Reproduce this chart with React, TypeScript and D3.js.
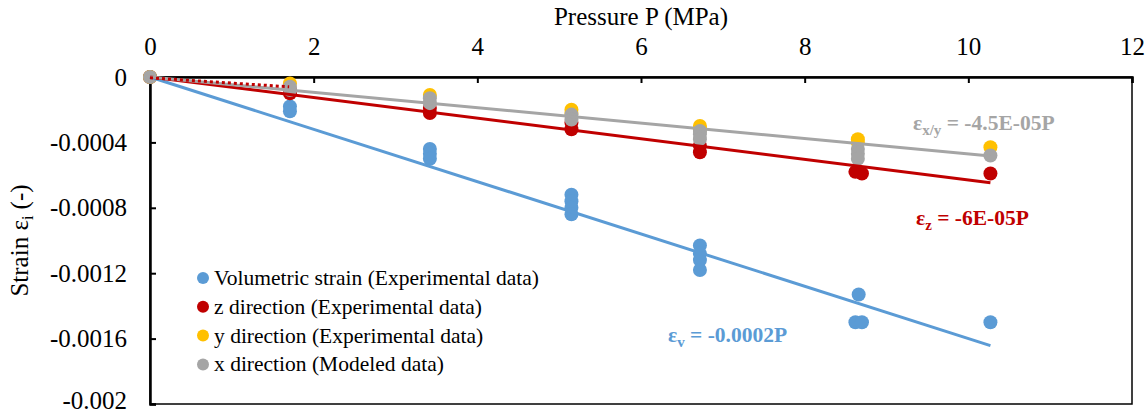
import React, { useRef, useEffect } from 'react';
import * as d3 from 'd3';

// data (pressure in MPa, strain in -)
const volPressure = [0, 1.71, 1.71, 3.42, 3.42, 3.42, 5.15, 5.15, 5.15, 5.15, 6.72, 6.72, 6.72, 6.72, 8.66, 8.62, 8.7, 10.27];
const volStrain = [0, -0.00018, -0.00021, -0.00044, -0.00047, -0.0005, -0.00072, -0.00076, -0.0008, -0.00084, -0.00103, -0.00108, -0.00112, -0.00118, -0.00133, -0.0015, -0.0015, -0.0015];

const zPressure = [0, 1.71, 1.71, 3.42, 3.42, 5.15, 5.15, 6.72, 6.72, 8.62, 8.7, 10.27];
const zStrain = [0, -0.00008, -0.0001, -0.00019, -0.00022, -0.00028, -0.00032, -0.00042, -0.00046, -0.00058, -0.00059, -0.00059];

const yPressure = [0, 1.71, 3.42, 5.15, 5.15, 6.72, 6.72, 8.65, 8.65, 10.27];
const yStrain = [0, -0.00004, -0.00011, -0.0002, -0.00022, -0.0003, -0.00032, -0.00038, -0.0004, -0.00043];

const xPressure = [0, 1.71, 1.71, 3.42, 3.42, 5.15, 5.15, 6.72, 6.72, 6.72, 8.65, 8.65, 8.65, 10.27];
const xStrain = [0, -0.00006, -0.00008, -0.00013, -0.00016, -0.00023, -0.00026, -0.00033, -0.00035, -0.00038, -0.00044, -0.00047, -0.0005, -0.00048];

// trendline slopes as drawn (the labels are rounded)
const trendSlopes = [-0.00016, -0.000063, -0.000047];
const trendEnd = 10.27;

const xTicks = [0, 2, 4, 6, 8, 10, 12];
const yTicks = [0, -0.0004, -0.0008, -0.0012, -0.0016, -0.002];
const yTickLabels = ['0', '-0.0004', '-0.0008', '-0.0012', '-0.0016', '-0.002'];

const legendLabels = [
  'Volumetric strain (Experimental data)',
  'z direction (Experimental data)',
  'y direction (Experimental data)',
  'x direction (Modeled data)',
];

const COLORS = ['#5B9BD5', '#C00000', '#FFC000', '#A5A5A5'];
const FONT = '"Liberation Serif", "Times New Roman", serif';

const W = 1146;
const H = 414;

const App = () => {
  const svgRef = useRef<SVGSVGElement>(null);

  useEffect(() => {
    const svg = d3.select(svgRef.current);
    svg.selectAll('*').remove();

    const x = d3.scaleLinear().domain([0, 12]).range([150, 1132]);
    const y = d3.scaleLinear().domain([-0.002, 0]).range([404, 77]);

    // plot frame
    svg.append('rect')
      .attr('x', x(0)).attr('y', y(0))
      .attr('width', x(12) - x(0)).attr('height', y(-0.002) - y(0))
      .attr('fill', 'none').attr('stroke', '#000').attr('stroke-width', 1.5);

    // top x axis
    const xAxis = svg.append('g').attr('transform', `translate(0,${y(0)})`)
      .call(d3.axisTop(x).tickValues(xTicks).tickSize(-6).tickPadding(22).tickFormat(d3.format('d')));
    xAxis.select('.domain').attr('stroke-width', 2.5);
    xAxis.selectAll('line').attr('stroke-width', 2);
    xAxis.selectAll('text').attr('font-family', FONT).attr('font-size', 25).attr('fill', '#000');

    // left y axis
    const yAxis = svg.append('g').attr('transform', `translate(${x(0)},0)`)
      .call(d3.axisLeft(y).tickValues(yTicks).tickSize(-6).tickPadding(23)
        .tickFormat((d, i) => yTickLabels[i]));
    yAxis.select('.domain').attr('stroke-width', 2.5);
    yAxis.selectAll('line').attr('stroke-width', 2);
    yAxis.selectAll('text').attr('font-family', FONT).attr('font-size', 25).attr('fill', '#000');
    // keep the lowest label inside the picture
    yAxis.selectAll('text').filter((d) => d === -0.002).attr('dy', '0.18em');

    // axis titles
    svg.append('text')
      .attr('x', (x(0) + x(12)) / 2).attr('y', 25)
      .attr('text-anchor', 'middle').attr('font-family', FONT).attr('font-size', 25)
      .text('Pressure P (MPa)');

    const yTitle = svg.append('text')
      .attr('transform', `translate(28,${(y(0) + y(-0.002)) / 2}) rotate(-90)`)
      .attr('text-anchor', 'middle').attr('font-family', FONT).attr('font-size', 25);
    yTitle.append('tspan').text('Strain ε');
    yTitle.append('tspan').attr('font-size', 16).attr('dy', 5).text('i');
    yTitle.append('tspan').attr('dy', -5).text(' (-)');

    // points
    const series = [
      [volPressure, volStrain],
      [zPressure, zStrain],
      [yPressure, yStrain],
      [xPressure, xStrain],
    ];
    series.forEach(([ps, vs], si) => {
      svg.append('g').selectAll('circle')
        .data(ps.map((p, i) => [p, vs[i]]))
        .join('circle')
        .attr('cx', d => x(d[0]))
        .attr('cy', d => y(d[1]))
        .attr('r', 7)
        .attr('fill', COLORS[si]);
    });

    // trendlines
    const line = d3.line<number>().x(d => x(d[0])).y(d => y(d[1]));
    trendSlopes.forEach((s, i) => {
      svg.append('path')
        .attr('d', line([[0, 0], [trendEnd, s * trendEnd]] as any))
        .attr('fill', 'none')
        .attr('stroke', [COLORS[0], COLORS[1], COLORS[3]][i])
        .attr('stroke-width', 3);
    });
    // short dotted red segment near the origin
    svg.append('path')
      .attr('d', line([[0, -0.000005], [1.7, -0.00006]] as any))
      .attr('fill', 'none').attr('stroke', COLORS[1]).attr('stroke-width', 3)
      .attr('stroke-dasharray', '3,3');

    // equation labels
    const eq = (px, py, color, sub, rest) => {
      const t = svg.append('text').attr('x', px).attr('y', py)
        .attr('font-family', FONT).attr('font-size', 21.5).attr('font-weight', 'bold').attr('fill', color);
      t.append('tspan').text('ε');
      t.append('tspan').attr('font-size', 15).attr('dy', 5).text(sub);
      t.append('tspan').attr('dy', -5).text(rest);
    };
    eq(913, 130, COLORS[3], 'x/y', ' = -4.5E-05P');
    eq(916, 225, COLORS[1], 'z', ' = -6E-05P');
    eq(668, 342, COLORS[0], 'v', ' = -0.0002P');

    // legend
    const lg = svg.append('g');
    legendLabels.forEach((lab, i) => {
      const ly = 278 + i * 28.8;
      lg.append('circle').attr('cx', 203).attr('cy', ly).attr('r', 6).attr('fill', COLORS[i]);
      lg.append('text').attr('x', 214).attr('y', ly + 7)
        .attr('font-family', FONT).attr('font-size', 21.5).attr('fill', '#000').text(lab);
    });
  }, []);

  return (
    <svg ref={svgRef} width={W} height={H}
      style={{ position: 'absolute', left: 0, top: 0, background: '#fff' }} />
  );
};

export default App;
